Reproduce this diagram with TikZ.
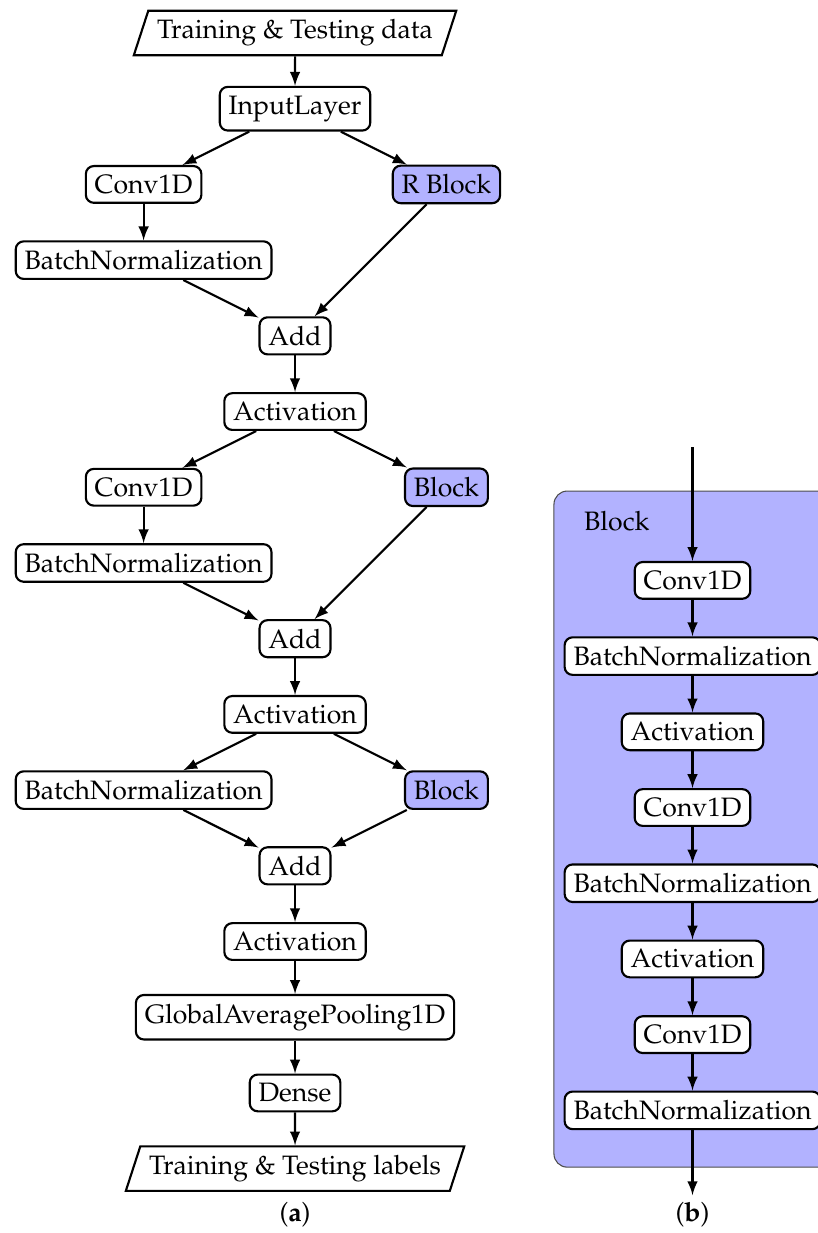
\documentclass[tikz,border=0pt]{standalone}
\usepackage[T1]{fontenc}
\usepackage{mathpazo}
\usetikzlibrary{arrows}
\usetikzlibrary{shapes.geometric}
\tikzset{layer/.style={draw, thick, rounded corners=3pt, fill=white},
  blk/.style={layer, fill=blue!30},
  io/.style={draw, thick, trapezium, trapezium left angle=72, trapezium right angle=108},
  flow/.style={thick, -latex}}

\begin{document}
\begin{tikzpicture}
      \useasboundingbox (-3.897, 0.436) rectangle (6.896, -15.85);

      \node [io] (data) at (0, 0) {Training \& Testing data};
      \node [layer] (input) at (0, -1) {InputLayer};
      \node [layer] (conva) at (-2, -2) {Conv1D};
      \node [blk] (rblock) at (2, -2) {R Block};
      \node [layer] (bna) at (-2, -3) {BatchNormalization};
      \node [layer] (adda) at (0, -4) {Add};
      \node [layer] (acta) at (0, -5) {Activation};
      \node [layer] (convb) at (-2, -6) {Conv1D};
      \node [blk] (blocka) at (2, -6) {Block};
      \node [layer] (bnb) at (-2, -7) {BatchNormalization};
      \node [layer] (addb) at (0, -8) {Add};
      \node [layer] (actb) at (0, -9) {Activation};
      \node [layer] (bnc) at (-2, -10) {BatchNormalization};
      \node [blk] (blockb) at (2, -10) {Block};
      \node [layer] (addc) at (0, -11) {Add};
      \node [layer] (actc) at (0, -12) {Activation};
      \node [layer] (gap) at (0, -13) {GlobalAveragePooling1D};
      \node [layer] (dense) at (0, -14) {Dense};
      \node [io] (labels) at (0, -15) {Training \& Testing labels};

      \draw [flow] (data) -- (input);
      \draw [flow] (input) -- (conva);
      \draw [flow] (input) -- (rblock);
      \draw [flow] (conva) -- (bna);
      \draw [flow] (bna) -- (adda);
      \draw [flow] (rblock) -- (adda);
      \draw [flow] (adda) -- (acta);
      \draw [flow] (acta) -- (convb);
      \draw [flow] (acta) -- (blocka);
      \draw [flow] (convb) -- (bnb);
      \draw [flow] (bnb) -- (addb);
      \draw [flow] (blocka) -- (addb);
      \draw [flow] (addb) -- (actb);
      \draw [flow] (actb) -- (bnc);
      \draw [flow] (actb) -- (blockb);
      \draw [flow] (bnc) -- (addc);
      \draw [flow] (blockb) -- (addc);
      \draw [flow] (addc) -- (actc);
      \draw [flow] (actc) -- (gap);
      \draw [flow] (gap) -- (dense);
      \draw [flow] (dense) -- (labels);

      \draw [thin, draw=black!70, fill=blue!30, rounded corners=5pt] (3.42, -6.05) rectangle (7.2, -14.98);
      \node (blocklabel) at (4.25, -6.45) {Block};
      \coordinate (bin) at (5.25, -5.47);
      \node [layer] (bconva) at (5.25, -7.23) {Conv1D};
      \node [layer] (bbna) at (5.25, -8.23) {BatchNormalization};
      \node [layer] (bacta) at (5.25, -9.23) {Activation};
      \node [layer] (bconvb) at (5.25, -10.23) {Conv1D};
      \node [layer] (bbnb) at (5.25, -11.23) {BatchNormalization};
      \node [layer] (bactb) at (5.25, -12.23) {Activation};
      \node [layer] (bconvc) at (5.25, -13.23) {Conv1D};
      \node [layer] (bbnc) at (5.25, -14.23) {BatchNormalization};
      \coordinate (bout) at (5.25, -15.35);

      \draw [flow] (bin) -- (bconva);
      \draw [flow] (bconva) -- (bbna);
      \draw [flow] (bbna) -- (bacta);
      \draw [flow] (bacta) -- (bconvb);
      \draw [flow] (bconvb) -- (bbnb);
      \draw [flow] (bbnb) -- (bactb);
      \draw [flow] (bactb) -- (bconvc);
      \draw [flow] (bconvc) -- (bbnc);
      \draw [flow] (bbnc) -- (bout);

      \node (capa) at (0, -15.61) {(\textbf{a})};
      \node (capb) at (5.25, -15.61) {(\textbf{b})};
    \end{tikzpicture}
\end{document}
